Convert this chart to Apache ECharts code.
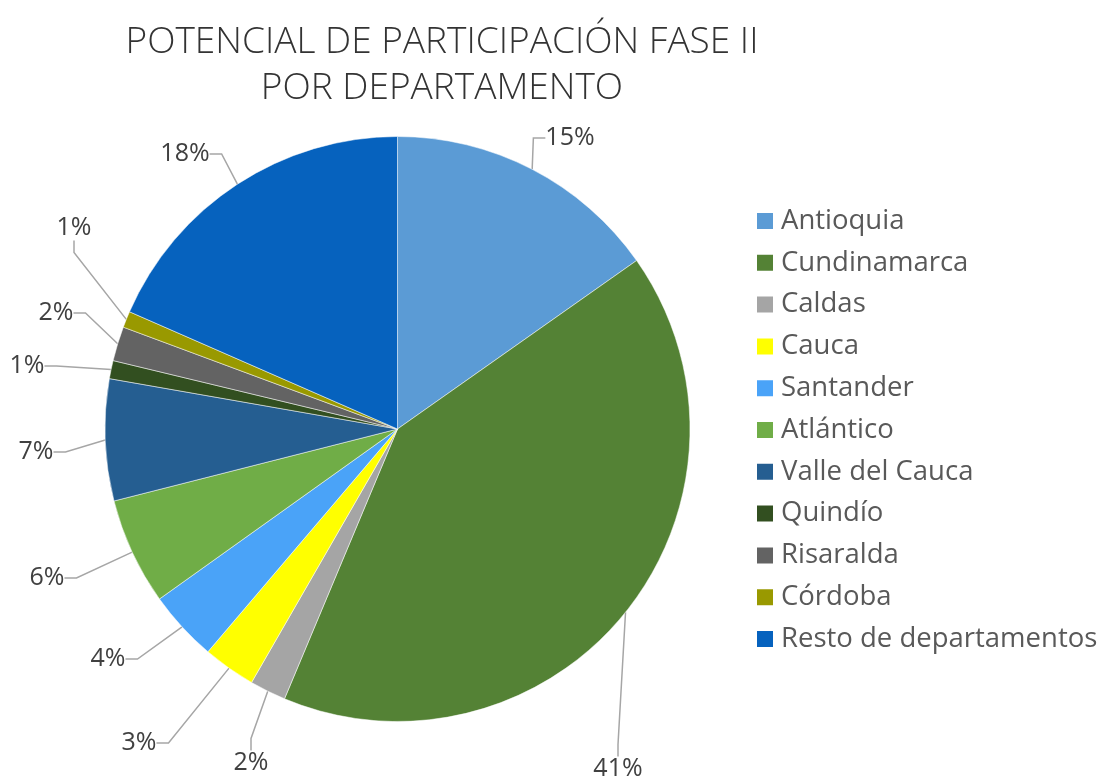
<!DOCTYPE html>
<html>
<head>
<meta charset="utf-8">
<script src="https://cdn.jsdelivr.net/npm/echarts@6/dist/echarts.min.js"></script>
<style>html,body{margin:0;padding:0;background:#fff}#c{width:1106px;height:781px}</style>
</head>
<body>
<div id="c"></div>
<script>
// ---- data ----
const categories = ["Antioquia","Cundinamarca","Caldas","Cauca","Santander","Atlántico","Valle del Cauca","Quindío","Risaralda","Córdoba","Resto de departamentos"];
const values = [15.2, 41.0, 2.0, 2.9, 3.9, 5.9, 6.7, 1.0, 1.9, 0.9, 18.4];
const titleLines = ["POTENCIAL DE PARTICIPACIÓN FASE II", "POR DEPARTAMENTO"];

// ---- style ----
const colors = ["#5B9BD5","#548235","#A5A5A5","#FFFF00","#4AA3F8","#70AD47","#255E91","#324F20","#636363","#999900","#0662BE"];
// label centre placement (Excel-style manual label layout)
const labelPos = [[570,138],[618,769],[251,763],[139,743],[108,659],[47,578],[36,452],[27,366],[56,313],[74,228],[185,154]];

const chart = echarts.init(document.getElementById('c'));
const FONT = "Open Sans";
chart.setOption({
  animation: false,
  title: {
    text: titleLines.join("\n"), left: 437, top: 14, textAlign: 'center',
    textStyle: {fontFamily: FONT, fontSize: 37, fontWeight: 300, color: '#333333', lineHeight: 46}
  },
  legend: {
    orient: 'vertical', left: 750, top: 202,
    itemWidth: 18, itemHeight: 18, itemGap: 13.8,
    icon: 'rect',
    textStyle: {fontFamily: FONT, fontSize: 27.5, color: '#595959', padding: [0,0,0,2]},
    data: categories
  },
  series: [{
    type: 'pie',
    center: [397.5, 429], radius: 292.5,
    startAngle: 90, clockwise: true,
    avoidLabelOverlap: false,
    data: categories.map((n, i) => ({name: n, value: values[i], itemStyle: {color: colors[i]}})),
    itemStyle: {borderColor: '#fff', borderWidth: 0.5},
    label: {
      show: true, position: 'outside',
      formatter: p => Math.round(p.percent) + '%',
      fontFamily: FONT, fontSize: 25, color: '#404040'
    },
    labelLine: {show: true, length: 20, length2: 12, lineStyle: {color: '#A6A6A6', width: 1.5}},
    labelLayout: function (params) {
      const p = labelPos[params.dataIndex];
      return {x: p[0], y: p[1], align: 'center', verticalAlign: 'middle'};
    }
  }]
});
</script>
</body>
</html>
